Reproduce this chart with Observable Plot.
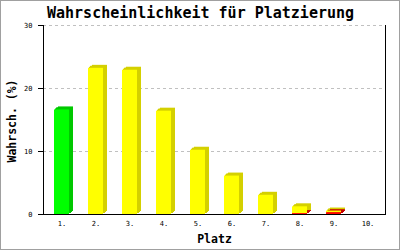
<!DOCTYPE html>
<html>
<head>
<meta charset="utf-8">
<script src="https://cdn.jsdelivr.net/npm/d3@7"></script>
<script src="https://cdn.jsdelivr.net/npm/@observablehq/plot@0.6"></script>
<style>
  body { margin: 0; background: #fff; }
  #wrap { position: relative; width: 400px; height: 250px; }
  #wrap .border { position: absolute; left: 0; top: 0; width: 400px; height: 250px; box-sizing: border-box; border: 1px solid #a0a0a0; pointer-events: none; }
</style>
</head>
<body>
<div id="wrap"><div class="border"></div></div>
<script>
// Placement categories and the probability (%) of each, split by colour group
const places = ["1.", "2.", "3.", "4.", "5.", "6.", "7.", "8.", "9.", "10."];
const green  = [16.6, 0, 0, 0, 0, 0, 0, 0, 0, 0];
const yellow = [0, 23.2, 22.9, 16.4, 10.2, 6.1, 3.05, 1.07, 0.25, 0];
const red    = [0, 0, 0, 0, 0, 0, 0, 0.15, 0.3, 0];
const yTicks = [0, 10, 20, 30];

const title = "Wahrscheinlichkeit für Platzierung";
const yLabel = "Wahrsch. (%)";
const xLabel = "Platz";

// stacking order: red at the bottom, then yellow, then green
const groups = [
  {name: "rot",  values: red,    front: "#ff0000", side: "#c80000"},
  {name: "gelb", values: yellow, front: "#ffff00", side: "#d4d000"},
  {name: "grün", values: green,  front: "#00ff00", side: "#00c800"}
];
const frontColor = Object.fromEntries(groups.map(g => [g.name, g.front]));
const sideColor = Object.fromEntries(groups.map(g => [g.name, g.side]));
const rows = groups.flatMap(g => places.map((p, i) => ({place: p, group: g.name, value: g.values[i]})));

// depth steps of the pseudo-3D bars (pixel offsets of the back face)
const depth = [[1, -1], [2, -1], [2, -2], [3, -2], [4, -3]];

const mono = "DejaVu Sans Mono";

const chart = Plot.plot({
  width: 400,
  height: 250,
  marginTop: 25,
  marginBottom: 36,
  marginLeft: 43,
  marginRight: 15,
  style: {fontFamily: mono, fontSize: "7px", color: "#000", background: "#fff"},
  x: {domain: places, paddingInner: 0.56, paddingOuter: 0.28},
  y: {domain: [0, 30]},
  marks: [
    Plot.ruleY(yTicks.filter(t => t > 0), {stroke: "#c0c0c0", strokeDasharray: "3,3"}),
    ...depth.map(([dx, dy]) =>
      Plot.barY(rows, {x: "place", y: "value", fill: d => sideColor[d.group], dx, dy, inset: 0})
    ),
    Plot.barY(rows, {x: "place", y: "value", fill: d => frontColor[d.group], inset: 0}),
    Plot.axisY({ticks: yTicks, tickSize: 5, tickPadding: 6, label: null}),
    Plot.axisX({tickSize: 0, tickPadding: 7, label: null}),
    Plot.frame({anchor: "left"}),
    Plot.frame({anchor: "right"}),
    Plot.frame({anchor: "bottom"}),
    Plot.text([title], {text: d => d, frameAnchor: "top", textAnchor: "middle", lineAnchor: "middle",
      dx: -14, dy: -12, fontSize: 15, fontWeight: "bold", fontFamily: mono}),
    Plot.text([yLabel], {text: d => d, frameAnchor: "left", textAnchor: "middle", lineAnchor: "middle",
      rotate: -90, dx: -31, dy: 1, fontSize: 11.5, fontWeight: "bold", fontFamily: mono}),
    Plot.text([xLabel], {text: d => d, frameAnchor: "bottom", textAnchor: "middle", lineAnchor: "middle",
      dy: 24.5, fontSize: 11.5, fontWeight: "bold", fontFamily: mono})
  ]
});
document.getElementById("wrap").prepend(chart);
</script>
</body>
</html>
